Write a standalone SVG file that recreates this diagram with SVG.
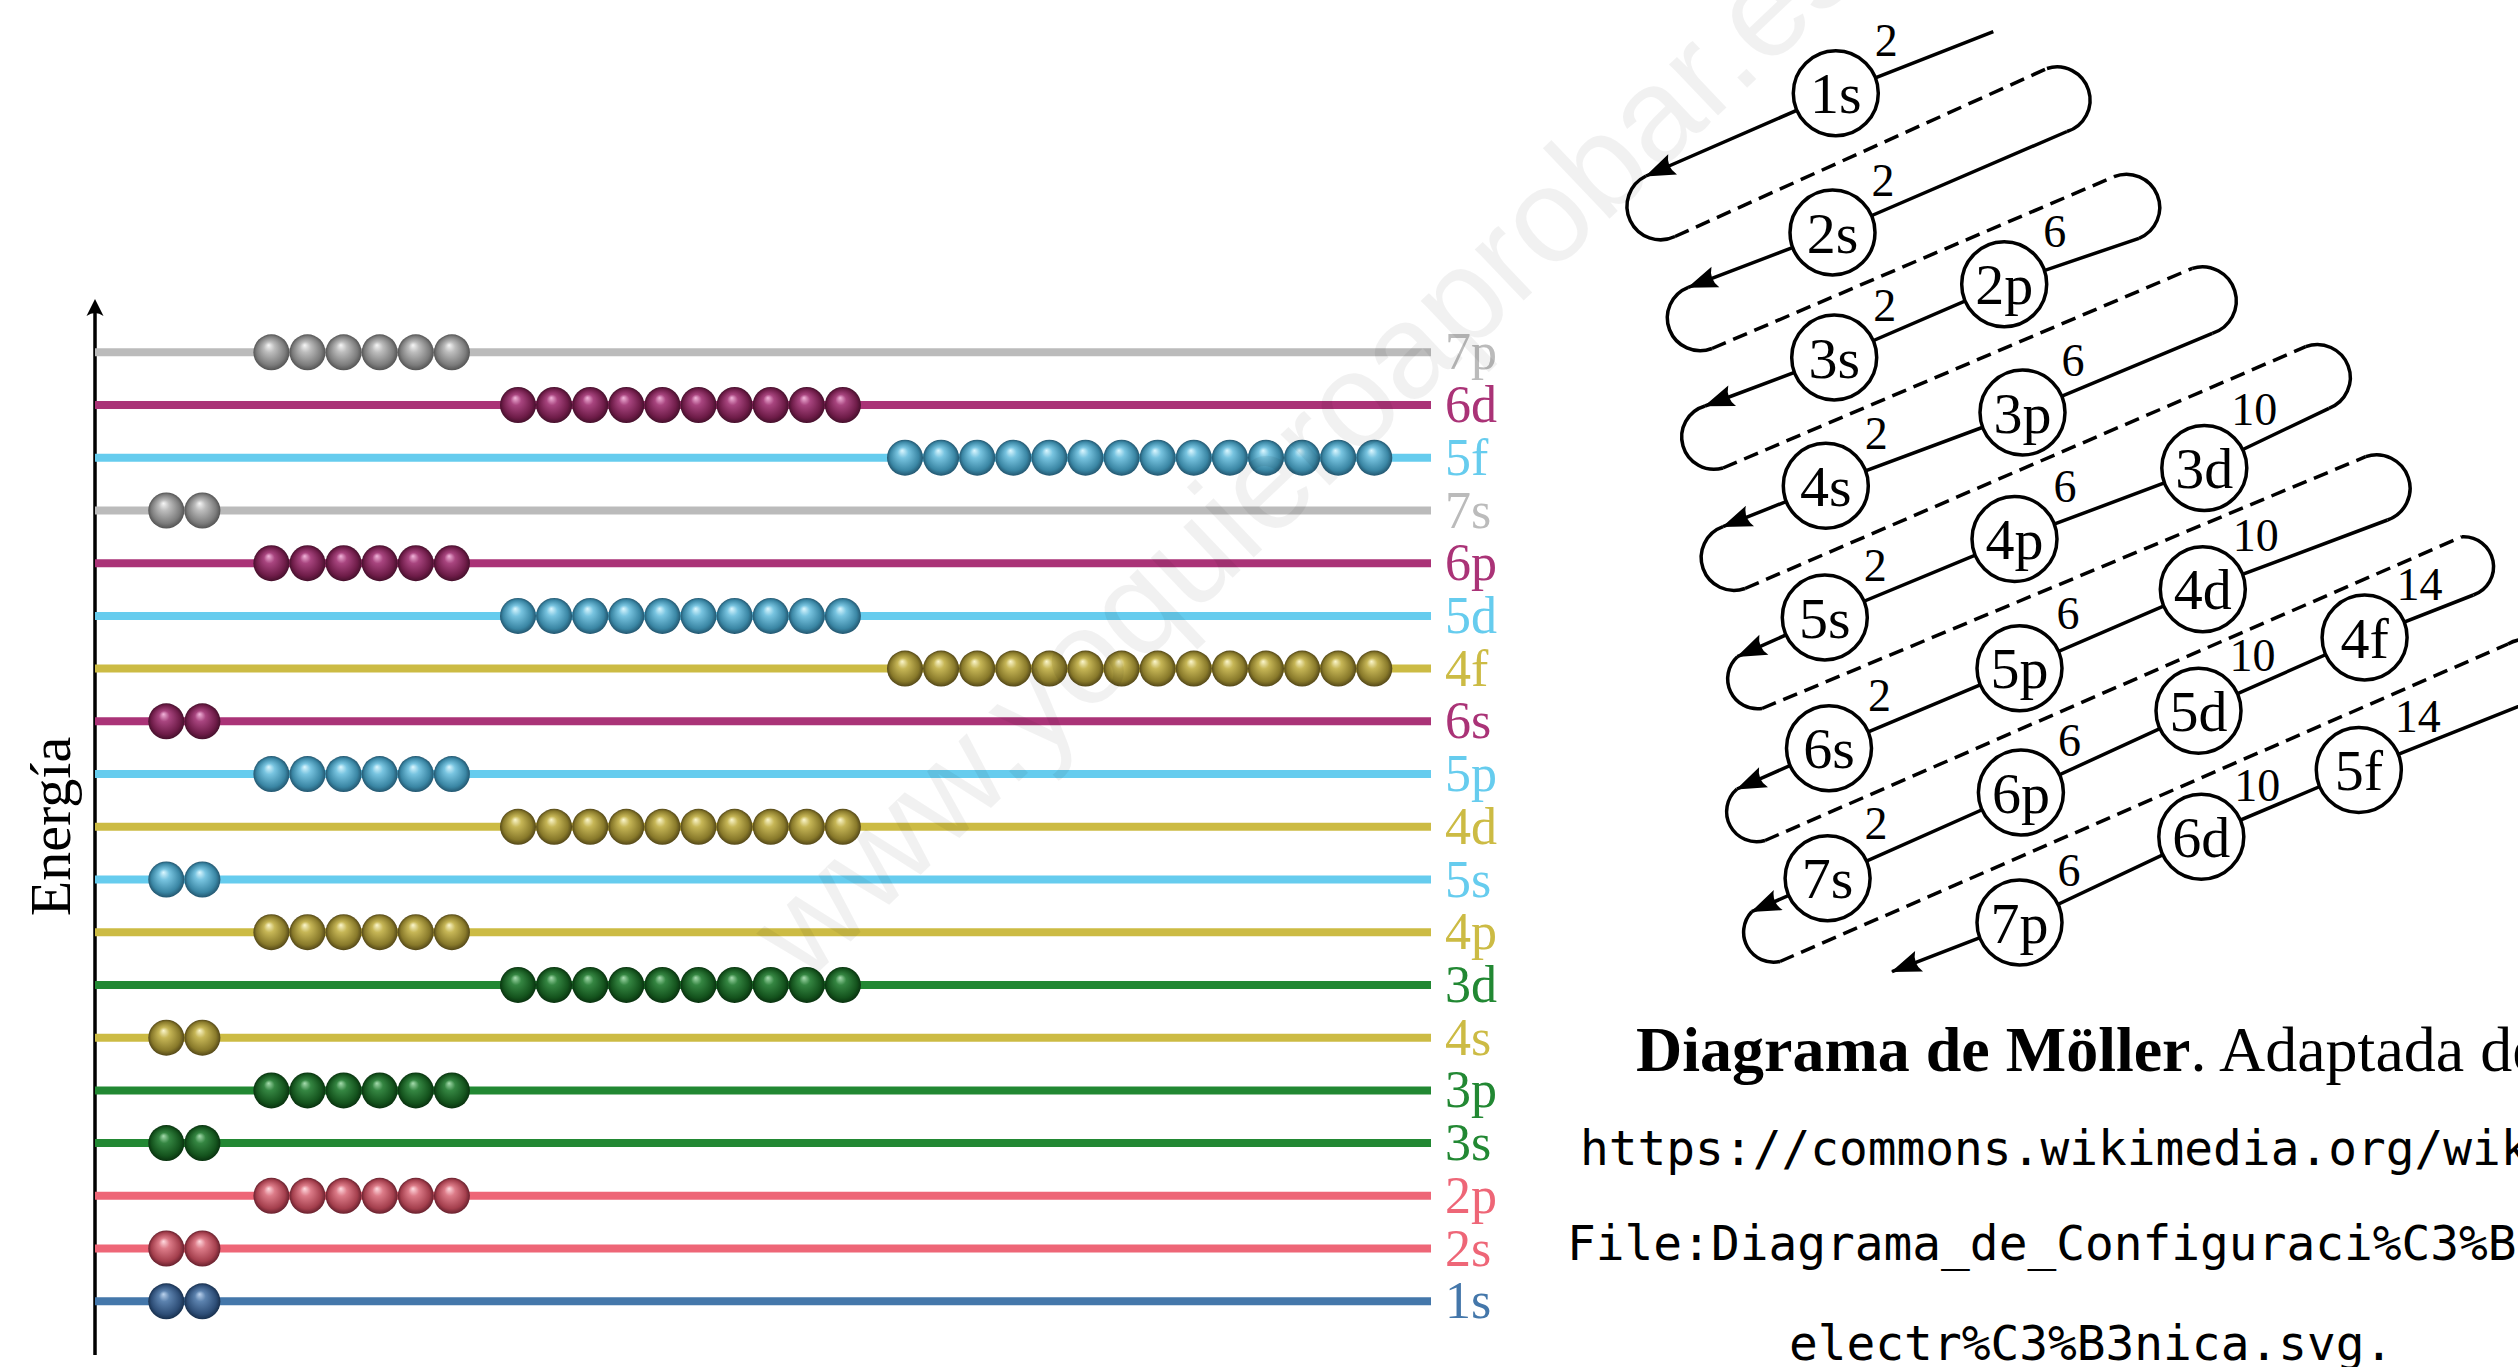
<svg xmlns="http://www.w3.org/2000/svg" xmlns:xlink="http://www.w3.org/1999/xlink" width="2518" height="1367" viewBox="0 0 2518 1367">
<style>
.lv{stroke-width:8;fill:none}
.lbl{font-family:"Liberation Serif","Times New Roman",serif;font-size:52px}
.orb circle{fill:#fff;stroke:#000;stroke-width:3.5}
.orb .nm{font-family:"Liberation Serif","Times New Roman",serif;font-size:58px;text-anchor:middle;fill:#000}
.orb .sup{font-family:"Liberation Serif","Times New Roman",serif;font-size:46px;fill:#000}
.sol{fill:none;stroke:#000;stroke-width:3.5}
.das{fill:none;stroke:#000;stroke-width:3.5;stroke-dasharray:15 8}
.cap{font-family:"Liberation Serif","Times New Roman",serif;font-size:64px;fill:#000}
.mono{font-family:"DejaVu Sans Mono","Liberation Mono",monospace;font-size:47.8px;fill:#000}
</style>
<defs>
<radialGradient id="gGrey" cx="0.5" cy="0.5" r="0.5" fx="0.42" fy="0.3"><stop offset="0" stop-color="#f6f6f6"/><stop offset="0.3" stop-color="#bcbcbc"/><stop offset="0.8" stop-color="#7c7c7c"/><stop offset="1" stop-color="#545454"/></radialGradient>
<radialGradient id="gPur" cx="0.5" cy="0.5" r="0.5" fx="0.42" fy="0.3"><stop offset="0" stop-color="#f2b4da"/><stop offset="0.3" stop-color="#a8457f"/><stop offset="0.8" stop-color="#6e1c48"/><stop offset="1" stop-color="#46102c"/></radialGradient>
<radialGradient id="gCya" cx="0.5" cy="0.5" r="0.5" fx="0.42" fy="0.3"><stop offset="0" stop-color="#dcf7ff"/><stop offset="0.3" stop-color="#78c4e0"/><stop offset="0.8" stop-color="#3a86a4"/><stop offset="1" stop-color="#235770"/></radialGradient>
<radialGradient id="gYel" cx="0.5" cy="0.5" r="0.5" fx="0.42" fy="0.3"><stop offset="0" stop-color="#fbf6cc"/><stop offset="0.3" stop-color="#c6b656"/><stop offset="0.8" stop-color="#88792a"/><stop offset="1" stop-color="#544818"/></radialGradient>
<radialGradient id="gGre" cx="0.5" cy="0.5" r="0.5" fx="0.42" fy="0.3"><stop offset="0" stop-color="#a6dcae"/><stop offset="0.3" stop-color="#358642"/><stop offset="0.8" stop-color="#14531d"/><stop offset="1" stop-color="#09320f"/></radialGradient>
<radialGradient id="gRed" cx="0.5" cy="0.5" r="0.5" fx="0.42" fy="0.3"><stop offset="0" stop-color="#ffdbe0"/><stop offset="0.3" stop-color="#dc7b88"/><stop offset="0.8" stop-color="#a43f4d"/><stop offset="1" stop-color="#68212e"/></radialGradient>
<radialGradient id="gBlu" cx="0.5" cy="0.5" r="0.5" fx="0.42" fy="0.3"><stop offset="0" stop-color="#bcd3ee"/><stop offset="0.3" stop-color="#5c82ae"/><stop offset="0.8" stop-color="#2e4e77"/><stop offset="1" stop-color="#18304e"/></radialGradient>
<g id="bs"><circle cx="166.3" r="18"/><circle cx="202.4" r="18"/></g>
<g id="bp"><circle cx="271.4" r="18"/><circle cx="307.5" r="18"/><circle cx="343.6" r="18"/><circle cx="379.7" r="18"/><circle cx="415.8" r="18"/><circle cx="451.9" r="18"/></g>
<g id="bd"><circle cx="518" r="18"/><circle cx="554.1" r="18"/><circle cx="590.2" r="18"/><circle cx="626.3" r="18"/><circle cx="662.4" r="18"/><circle cx="698.5" r="18"/><circle cx="734.6" r="18"/><circle cx="770.7" r="18"/><circle cx="806.8" r="18"/><circle cx="842.9" r="18"/></g>
<g id="bf"><circle cx="905" r="18"/><circle cx="941.1" r="18"/><circle cx="977.2" r="18"/><circle cx="1013.3" r="18"/><circle cx="1049.4" r="18"/><circle cx="1085.5" r="18"/><circle cx="1121.6" r="18"/><circle cx="1157.7" r="18"/><circle cx="1193.8" r="18"/><circle cx="1229.9" r="18"/><circle cx="1266" r="18"/><circle cx="1302.1" r="18"/><circle cx="1338.2" r="18"/><circle cx="1374.3" r="18"/></g>
<marker id="arr" viewBox="-32 -14 34 28" refX="0" refY="0" markerWidth="34" markerHeight="28" markerUnits="userSpaceOnUse" orient="auto"><path d="M1,0 L-29,-11 Q-22,0 -29,11 Z" fill="#000"/></marker>
</defs>
<rect width="2518" height="1367" fill="#fff"/>

<g id="energy-axis">
<line x1="95" y1="1355" x2="95" y2="306" stroke="#000" stroke-width="3.5"/>
<path d="M95,299 L86.5,316 Q95,310 103.5,316 Z" fill="#000"/>
<text transform="translate(70,826.5) rotate(-90)" text-anchor="middle" font-family="Liberation Serif, Times New Roman, serif" font-size="58" fill="#000">Energía</text>
</g>

<g id="levels">
<g id="lvl-7p"><line class="lv" x1="95" y1="352.3" x2="1431" y2="352.3" stroke="#BBBBBB"/><use href="#bp" y="352.3" fill="url(#gGrey)"/><text class="lbl" x="1445" y="369.3" fill="#BBBBBB">7p</text></g>
<g id="lvl-6d"><line class="lv" x1="95" y1="405" x2="1431" y2="405" stroke="#AA3377"/><use href="#bd" y="405" fill="url(#gPur)"/><text class="lbl" x="1445" y="422" fill="#AA3377">6d</text></g>
<g id="lvl-5f"><line class="lv" x1="95" y1="457.7" x2="1431" y2="457.7" stroke="#66CCEE"/><use href="#bf" y="457.7" fill="url(#gCya)"/><text class="lbl" x="1445" y="474.7" fill="#66CCEE">5f</text></g>
<g id="lvl-7s"><line class="lv" x1="95" y1="510.5" x2="1431" y2="510.5" stroke="#BBBBBB"/><use href="#bs" y="510.5" fill="url(#gGrey)"/><text class="lbl" x="1445" y="527.5" fill="#BBBBBB">7s</text></g>
<g id="lvl-6p"><line class="lv" x1="95" y1="563.2" x2="1431" y2="563.2" stroke="#AA3377"/><use href="#bp" y="563.2" fill="url(#gPur)"/><text class="lbl" x="1445" y="580.2" fill="#AA3377">6p</text></g>
<g id="lvl-5d"><line class="lv" x1="95" y1="615.9" x2="1431" y2="615.9" stroke="#66CCEE"/><use href="#bd" y="615.9" fill="url(#gCya)"/><text class="lbl" x="1445" y="632.9" fill="#66CCEE">5d</text></g>
<g id="lvl-4f"><line class="lv" x1="95" y1="668.6" x2="1431" y2="668.6" stroke="#CCBB44"/><use href="#bf" y="668.6" fill="url(#gYel)"/><text class="lbl" x="1445" y="685.6" fill="#CCBB44">4f</text></g>
<g id="lvl-6s"><line class="lv" x1="95" y1="721.3" x2="1431" y2="721.3" stroke="#AA3377"/><use href="#bs" y="721.3" fill="url(#gPur)"/><text class="lbl" x="1445" y="738.3" fill="#AA3377">6s</text></g>
<g id="lvl-5p"><line class="lv" x1="95" y1="774.1" x2="1431" y2="774.1" stroke="#66CCEE"/><use href="#bp" y="774.1" fill="url(#gCya)"/><text class="lbl" x="1445" y="791.1" fill="#66CCEE">5p</text></g>
<g id="lvl-4d"><line class="lv" x1="95" y1="826.8" x2="1431" y2="826.8" stroke="#CCBB44"/><use href="#bd" y="826.8" fill="url(#gYel)"/><text class="lbl" x="1445" y="843.8" fill="#CCBB44">4d</text></g>
<g id="lvl-5s"><line class="lv" x1="95" y1="879.5" x2="1431" y2="879.5" stroke="#66CCEE"/><use href="#bs" y="879.5" fill="url(#gCya)"/><text class="lbl" x="1445" y="896.5" fill="#66CCEE">5s</text></g>
<g id="lvl-4p"><line class="lv" x1="95" y1="932.2" x2="1431" y2="932.2" stroke="#CCBB44"/><use href="#bp" y="932.2" fill="url(#gYel)"/><text class="lbl" x="1445" y="949.2" fill="#CCBB44">4p</text></g>
<g id="lvl-3d"><line class="lv" x1="95" y1="984.9" x2="1431" y2="984.9" stroke="#228833"/><use href="#bd" y="984.9" fill="url(#gGre)"/><text class="lbl" x="1445" y="1001.9" fill="#228833">3d</text></g>
<g id="lvl-4s"><line class="lv" x1="95" y1="1037.7" x2="1431" y2="1037.7" stroke="#CCBB44"/><use href="#bs" y="1037.7" fill="url(#gYel)"/><text class="lbl" x="1445" y="1054.7" fill="#CCBB44">4s</text></g>
<g id="lvl-3p"><line class="lv" x1="95" y1="1090.4" x2="1431" y2="1090.4" stroke="#228833"/><use href="#bp" y="1090.4" fill="url(#gGre)"/><text class="lbl" x="1445" y="1107.4" fill="#228833">3p</text></g>
<g id="lvl-3s"><line class="lv" x1="95" y1="1143.1" x2="1431" y2="1143.1" stroke="#228833"/><use href="#bs" y="1143.1" fill="url(#gGre)"/><text class="lbl" x="1445" y="1160.1" fill="#228833">3s</text></g>
<g id="lvl-2p"><line class="lv" x1="95" y1="1195.8" x2="1431" y2="1195.8" stroke="#EE6677"/><use href="#bp" y="1195.8" fill="url(#gRed)"/><text class="lbl" x="1445" y="1212.8" fill="#EE6677">2p</text></g>
<g id="lvl-2s"><line class="lv" x1="95" y1="1248.5" x2="1431" y2="1248.5" stroke="#EE6677"/><use href="#bs" y="1248.5" fill="url(#gRed)"/><text class="lbl" x="1445" y="1265.5" fill="#EE6677">2s</text></g>
<g id="lvl-1s"><line class="lv" x1="95" y1="1301.3" x2="1431" y2="1301.3" stroke="#4477AA"/><use href="#bs" y="1301.3" fill="url(#gBlu)"/><text class="lbl" x="1445" y="1318.3" fill="#4477AA">1s</text></g>
</g>

<g id="connectors">
<path class="sol" d="M1993.3,31.7 L1835.8,93.3 L1646,176" marker-end="url(#arr)"/>
<path class="sol" d="M2067,131.5 L1832.5,232.5 L1688.3,287.3" marker-end="url(#arr)"/>
<path class="sol" d="M2139,238.3 L2004.2,284.2 L1834.2,357.5 L1705,406" marker-end="url(#arr)"/>
<path class="sol" d="M2212.3,333.3 L2022.5,412.5 L1825.8,485.7 L1723,526.7" marker-end="url(#arr)"/>
<path class="sol" d="M2329,408.3 L2204.3,468 L2014.5,539 L1824.8,617.5 L1737.4,656.7" marker-end="url(#arr)"/>
<path class="sol" d="M2387.5,520 L2202.8,589.2 L2019.5,668.3 L1829,748.3 L1737,789" marker-end="url(#arr)"/>
<path class="sol" d="M2473.4,595 L2364.6,637.5 L2198.5,710.8 L2020.9,792.5 L1827.6,878.3 L1751.7,911.7" marker-end="url(#arr)"/>
<path class="sol" d="M2540,698 L2358.8,770 L2201.3,836.7 L2019.5,922.5 L1892,971.7" marker-end="url(#arr)"/>
<path class="sol" d="M1646,176 A30,30 0 0 0 1675,236.5"/>
<path class="sol" d="M1688.3,287.3 A30,30 0 0 0 1712,348.5"/>
<path class="sol" d="M1705,406 A30,30 0 0 0 1723,468"/>
<path class="sol" d="M1723,526.7 A30,30 0 0 0 1745,588.5"/>
<path class="sol" d="M1737.4,656.7 A30,30 0 0 0 1762,708.5"/>
<path class="sol" d="M1737,789 A30,30 0 0 0 1765,840.5"/>
<path class="sol" d="M1751.7,911.7 A30,30 0 0 0 1780,961.5"/>
<path class="das" d="M1675,236.5 L2047,68.5"/>
<path class="das" d="M1712,348.5 L2114,176.7"/>
<path class="das" d="M1723,468 L2192.3,268.3"/>
<path class="das" d="M1745,588.5 L2305.7,346.7"/>
<path class="das" d="M1762,708.5 L2365.7,456.7"/>
<path class="das" d="M1765,840.5 L2462,536.7"/>
<path class="das" d="M1780,961.5 L2508,644"/>
<path class="sol" d="M2047,68.5 A30,30 0 0 1 2067,131.5"/>
<path class="sol" d="M2114,176.7 A30,30 0 0 1 2139,238.3"/>
<path class="sol" d="M2192.3,268.3 A30,30 0 0 1 2212.3,333.3"/>
<path class="sol" d="M2305.7,346.7 A30,30 0 0 1 2329,408.3"/>
<path class="sol" d="M2365.7,456.7 A30,30 0 0 1 2387.5,520"/>
<path class="sol" d="M2462,536.7 A30,30 0 0 1 2473.4,595"/>
<path class="sol" d="M2508,644 A30,30 0 0 1 2540,698"/>
</g>

<g id="orbitals">
<g id="orb-1s" class="orb"><circle cx="1835.8" cy="93.3" r="42.5"/><text class="nm" x="1835.8" y="113.3">1s</text><text class="sup" x="1874.8" y="56.3">2</text></g>
<g id="orb-2s" class="orb"><circle cx="1832.5" cy="232.5" r="42.5"/><text class="nm" x="1832.5" y="252.5">2s</text><text class="sup" x="1871.5" y="195.5">2</text></g>
<g id="orb-2p" class="orb"><circle cx="2004.2" cy="284.2" r="42.5"/><text class="nm" x="2004.2" y="304.2">2p</text><text class="sup" x="2043.2" y="247.2">6</text></g>
<g id="orb-3s" class="orb"><circle cx="1834.2" cy="357.5" r="42.5"/><text class="nm" x="1834.2" y="377.5">3s</text><text class="sup" x="1873.2" y="320.5">2</text></g>
<g id="orb-3p" class="orb"><circle cx="2022.5" cy="412.5" r="42.5"/><text class="nm" x="2022.5" y="432.5">3p</text><text class="sup" x="2061.5" y="375.5">6</text></g>
<g id="orb-3d" class="orb"><circle cx="2204.3" cy="468" r="42.5"/><text class="nm" x="2204.3" y="488">3d</text><text class="sup" x="2231.3" y="425">10</text></g>
<g id="orb-4s" class="orb"><circle cx="1825.8" cy="485.7" r="42.5"/><text class="nm" x="1825.8" y="505.7">4s</text><text class="sup" x="1864.8" y="448.7">2</text></g>
<g id="orb-4p" class="orb"><circle cx="2014.5" cy="539" r="42.5"/><text class="nm" x="2014.5" y="559">4p</text><text class="sup" x="2053.5" y="502">6</text></g>
<g id="orb-4d" class="orb"><circle cx="2202.8" cy="589.2" r="42.5"/><text class="nm" x="2202.8" y="609.2">4d</text><text class="sup" x="2232.8" y="551.2">10</text></g>
<g id="orb-4f" class="orb"><circle cx="2364.6" cy="637.5" r="42.5"/><text class="nm" x="2364.6" y="657.5">4f</text><text class="sup" x="2396.6" y="599.5">14</text></g>
<g id="orb-5s" class="orb"><circle cx="1824.8" cy="617.5" r="42.5"/><text class="nm" x="1824.8" y="637.5">5s</text><text class="sup" x="1863.8" y="580.5">2</text></g>
<g id="orb-5p" class="orb"><circle cx="2019.5" cy="668.3" r="42.5"/><text class="nm" x="2019.5" y="688.3">5p</text><text class="sup" x="2056.5" y="629.3">6</text></g>
<g id="orb-5d" class="orb"><circle cx="2198.5" cy="710.8" r="42.5"/><text class="nm" x="2198.5" y="730.8">5d</text><text class="sup" x="2229.5" y="670.8">10</text></g>
<g id="orb-5f" class="orb"><circle cx="2358.8" cy="770" r="42.5"/><text class="nm" x="2358.8" y="790">5f</text><text class="sup" x="2394.8" y="732">14</text></g>
<g id="orb-6s" class="orb"><circle cx="1829" cy="748.3" r="42.5"/><text class="nm" x="1829" y="768.3">6s</text><text class="sup" x="1868" y="711.3">2</text></g>
<g id="orb-6p" class="orb"><circle cx="2020.9" cy="792.5" r="42.5"/><text class="nm" x="2020.9" y="812.5">6p</text><text class="sup" x="2057.9" y="755.5">6</text></g>
<g id="orb-6d" class="orb"><circle cx="2201.3" cy="836.7" r="42.5"/><text class="nm" x="2201.3" y="856.7">6d</text><text class="sup" x="2234.3" y="800.7">10</text></g>
<g id="orb-7s" class="orb"><circle cx="1827.6" cy="878.3" r="42.5"/><text class="nm" x="1827.6" y="898.3">7s</text><text class="sup" x="1864.6" y="839.3">2</text></g>
<g id="orb-7p" class="orb"><circle cx="2019.5" cy="922.5" r="42.5"/><text class="nm" x="2019.5" y="942.5">7p</text><text class="sup" x="2057.5" y="885.5">6</text></g>
</g>

<g id="caption">
<text class="cap" x="1636" y="1071"><tspan font-weight="bold">Diagrama de Möller</tspan>. Adaptada de</text>
<text class="mono" x="1580" y="1165">https://commons.wikimedia.org/wik</text>
<text class="mono" x="1567" y="1260">File:Diagrama_de_Configuraci%C3%B</text>
<text class="mono" x="1789" y="1360">electr%C3%B3nica.svg.</text>
</g>

<text id="watermark" transform="translate(805,985) rotate(-43.6)" font-family="Liberation Sans, Arial, sans-serif" font-size="134" fill="#000" fill-opacity="0.055">www.yoquieroaprobar.es</text>
</svg>
